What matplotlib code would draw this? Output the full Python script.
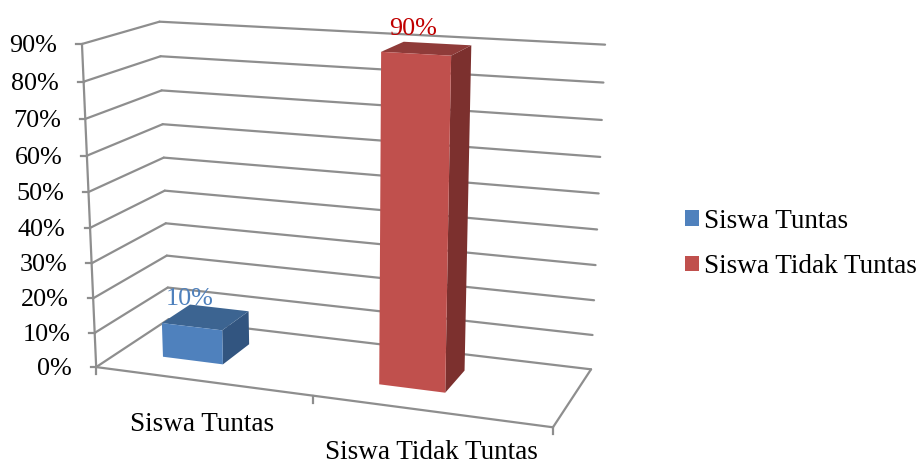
import numpy as np
import matplotlib
matplotlib.use('Agg')
import matplotlib.pyplot as plt
from matplotlib.patches import Patch

categories = ['Siswa Tuntas', 'Siswa Tidak Tuntas']
values = [10, 90]
value_labels = ['10%', '90%']
y_ticks = [0, 10, 20, 30, 40, 50, 60, 70, 80, 90]
y_tick_labels = ['0%', '10%', '20%', '30%', '40%', '50%', '60%', '70%', '80%', '90%']

front_colors = ['#4f81bd', '#c0504d']
top_colors = ['#3c6491', '#8f3b39']
side_colors = ['#325580', '#7c302e']
label_colors = ['#4f81bd', '#c00000']
line_color = '#8e8e8e'

plt.rcParams['font.family'] = ['Liberation Serif', 'DejaVu Serif']
FS = 19.5
FS_NUM = 18.8
LW = 1.6

# camera of the fake 3d box, (category, value, depth) -> pixels, fitted on the picture
calib = [(0, 0, 0, 96.7, 366.7), (0, 90, 0, 81.7, 44), (0, 50, 0, 88, 192.3), (0, 10, 0, 95, 332),
         (0, 0, 1, 168.5, 321), (0, 90, 1, 160, 22), (0, 50, 1, 163.5, 156.7), (0, 10, 1, 167.7, 287),
         (2, 0, 0, 553, 428), (2, 0, 1, 591, 368.3), (2, 90, 1, 605, 44.7), (2, 80, 1, 603.7, 82.7),
         (2, 70, 1, 601.7, 120), (1, 0, 0, 313, 396)]
A = []
for x, v, d, u, w in calib:
    A.append([x, v, d, 1, 0, 0, 0, 0, -u*x, -u*v, -u*d, -u])
    A.append([0, 0, 0, 0, x, v, d, 1, -w*x, -w*v, -w*d, -w])
P = np.linalg.svd(np.array(A, float))[2][-1].reshape(3, 4)


def proj(x, v, d):
    q = P @ np.array([x, v, d, 1.0])
    return q[0]/q[2], q[1]/q[2]


def seg(ax, a, b):
    pa, pb = proj(*a), proj(*b)
    ax.plot([pa[0], pb[0]], [pa[1], pb[1]], color=line_color, lw=LW,
            solid_capstyle='round', zorder=1)


fig = plt.figure(figsize=(9.18, 4.65), dpi=100)
ax = fig.add_axes([0, 0, 1, 1])
ax.set_xlim(0, 918)
ax.set_ylim(465, 0)
ax.axis('off')

# walls and floor
top = y_ticks[-1]
for t, lab in zip(y_ticks, y_tick_labels):
    seg(ax, (0, t, 0), (0, t, 1))
    seg(ax, (0, t, 1), (2, t, 1))
    px, py = proj(0, t, 0)
    ax.plot([px-5.5, px], [py, py], color=line_color, lw=LW, zorder=1)
    ax.text(px-24.5, py+8, lab, ha='right', va='baseline', fontsize=FS_NUM, color='black')
seg(ax, (0, 0, 0), (0, top, 0))
seg(ax, (0, 0, 0), (2, 0, 0))
seg(ax, (2, 0, 0), (2, 0, 1))
for c in range(3):
    px, py = proj(c, 0, 0)
    ax.plot([px, px], [py, py+7], color=line_color, lw=LW, zorder=1)

# bars
label_dx = [0, 9]
label_dy = [0, -7]
for i, val in enumerate(values):
    x0, x1 = i+0.21, i+0.497
    d0, d1 = 0.311, 0.714
    front = [proj(x0, 0, d0), proj(x1, 0, d0), proj(x1, val, d0), proj(x0, val, d0)]
    side = [proj(x1, 0, d0), proj(x1, 0, d1), proj(x1, val, d1), proj(x1, val, d0)]
    roof = [proj(x0, val, d0), proj(x1, val, d0), proj(x1, val, d1), proj(x0, val, d1)]
    ax.fill(*zip(*side), color=side_colors[i], lw=0, zorder=3)
    ax.fill(*zip(*roof), color=top_colors[i], lw=0, zorder=3)
    ax.fill(*zip(*front), color=front_colors[i], lw=0, zorder=3)
    cx, cy = proj(x0, val, d1)
    ax.text(cx+label_dx[i], cy+label_dy[i], value_labels[i], ha='center', va='baseline',
            fontsize=FS_NUM, color=label_colors[i], zorder=4)

ax.text(202, 431, categories[0], ha='center', va='baseline', fontsize=FS, color='black')
ax.text(431, 459, categories[1], ha='center', va='baseline', fontsize=FS, color='black')

handles = [Patch(color=c, lw=0, label=n) for c, n in zip(front_colors, categories)]
ax.legend(handles=handles, loc='center left', bbox_to_anchor=(685/918, 1-244/465), frameon=False,
          fontsize=FS, handlelength=0.517, handleheight=0.5, handletextpad=0.18,
          labelspacing=0.76, borderpad=0, borderaxespad=0)

fig.savefig('out.png', dpi=100)
